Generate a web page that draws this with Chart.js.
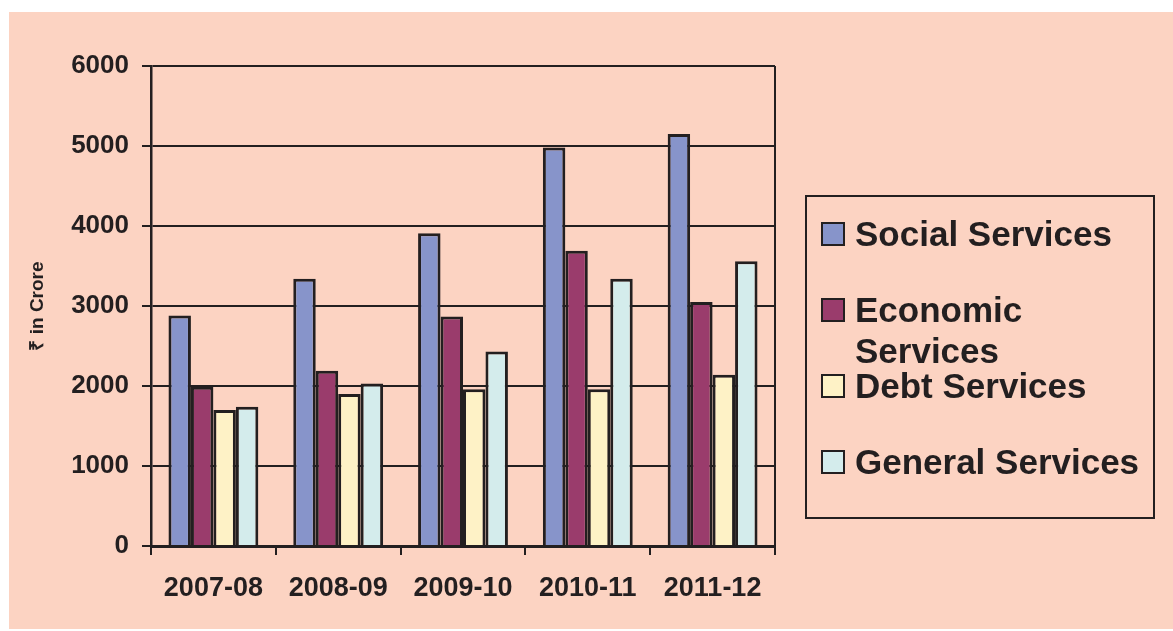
<!DOCTYPE html>
<html>
<head>
<meta charset="utf-8">
<script src="https://cdn.jsdelivr.net/npm/chart.js@4.4.1/dist/chart.umd.min.js"></script>
<style>
  html, body { margin: 0; padding: 0; background: #ffffff; }
  body { width: 1173px; height: 631px; position: relative; overflow: hidden; font-family: 'Liberation Sans', Arial, sans-serif; }
  #panel { position: absolute; left: 9px; top: 12px; width: 1164px; height: 617px; background: #FCD3C2; }
  #wrap { position: absolute; left: 0; top: 0; width: 1173px; height: 631px; }
  #legend { position: absolute; left: 805px; top: 195px; width: 346px; height: 320px; border: 2px solid #231F20; }
  .item { position: absolute; left: 0; width: 346px; }
  .sw { position: absolute; left: 14px; width: 20px; height: 20px; border: 2px solid #231F20; }
  .lbl { position: absolute; left: 48px; width: 292px; font: bold 35px/41px 'Liberation Sans', Arial, sans-serif; color: #231F20; }
</style>
</head>
<body>
<div id="panel"></div>
<div id="wrap"><canvas id="c" width="1173" height="631"></canvas></div>
<div id="legend"></div>
<script>
// Plan expenditure by sector, ₹ crore
const years = ['2007-08', '2008-09', '2009-10', '2010-11', '2011-12'];
const social   = [2880, 3340, 3910, 4980, 5150];
const economic = [1990, 2190, 2870, 3690, 3050];
const debt     = [1700, 1900, 1960, 1960, 2140];
const general  = [1740, 2030, 2430, 3340, 3560];
const seriesNames = ['Social Services', 'Economic Services', 'Debt Services', 'General Services'];
const seriesColors = ['#8794CA', '#9A3C6C', '#FEF2C6', '#D4ECEC'];
const yTicks = [0, 1000, 2000, 3000, 4000, 5000, 6000];

const ink = '#231F20';
Chart.defaults.font.family = "'Liberation Sans', Arial, sans-serif";
Chart.defaults.color = ink;

// closes the plot frame on the right-hand side
const rightFrame = {
  id: 'rightFrame',
  afterDraw(chart) {
    const a = chart.chartArea, ctx = chart.ctx;
    ctx.save();
    ctx.strokeStyle = ink;
    ctx.lineWidth = 2;
    ctx.beginPath();
    ctx.moveTo(a.right, a.top);
    ctx.lineTo(a.right, a.bottom);
    ctx.stroke();
    ctx.restore();
  }
};

const values = [social, economic, debt, general];
new Chart(document.getElementById('c'), {
  type: 'bar',
  data: {
    labels: years,
    datasets: values.map((v, i) => ({
      label: seriesNames[i],
      data: v,
      backgroundColor: seriesColors[i],
      borderColor: ink,
      borderWidth: 3,
      borderSkipped: 'start',
      barPercentage: 1,
      categoryPercentage: 0.72
    }))
  },
  options: {
    responsive: false,
    animation: false,
    layout: { padding: { left: 0, top: 66, right: 398, bottom: 0 } },
    plugins: { legend: { display: false }, tooltip: { enabled: false } },
    scales: {
      x: {
        afterFit(s) { s.height = 85; },
        grid: { offset: true, drawOnChartArea: false, drawTicks: true, tickLength: 9, color: ink, lineWidth: 2 },
        border: { display: true, color: ink, width: 3 },
        ticks: { font: { size: 27, weight: 'bold' }, padding: 17, color: ink, maxRotation: 0 }
      },
      y: {
        min: 0, max: 6000,
        afterFit(s) { s.width = 151; },
        afterBuildTicks(s) { s.ticks = yTicks.map(v => ({ value: v })); },
        grid: { color: ink, lineWidth: 2, tickLength: 9, drawTicks: true },
        border: { display: true, color: ink, width: 2.5 },
        ticks: { font: { size: 26, weight: 'bold' }, padding: 13, color: ink, callback: v => String(v) },
        title: { display: true, text: '₹ in Crore', font: { size: 19, weight: 'bold' }, color: ink, padding: { top: 26, bottom: 0 } }
      }
    }
  },
  plugins: [rightFrame]
});

// legend panel built from the same series arrays
const legend = document.getElementById('legend');
seriesNames.forEach((name, i) => {
  const item = document.createElement('div');
  item.className = 'item';
  item.style.top = (16.4 + 76 * i) + 'px';
  const sw = document.createElement('div');
  sw.className = 'sw';
  sw.style.top = '8.6px';
  sw.style.background = seriesColors[i];
  const lbl = document.createElement('div');
  lbl.className = 'lbl';
  lbl.style.top = '0px';
  lbl.textContent = name;
  item.appendChild(sw);
  item.appendChild(lbl);
  legend.appendChild(item);
});
</script>
</body>
</html>
